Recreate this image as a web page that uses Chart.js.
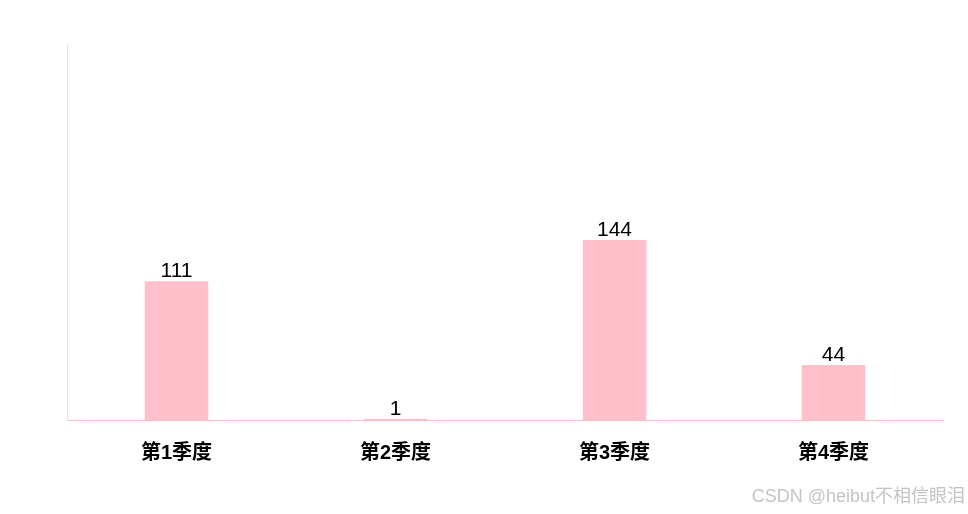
<!DOCTYPE html>
<html>
<head>
<meta charset="utf-8">
<script src="https://cdn.jsdelivr.net/npm/chart.js@4/dist/chart.umd.min.js"></script>
<style>
  html, body { margin: 0; padding: 0; background: #fff; }
  #wrap { position: relative; width: 968px; height: 514px; }
  #mark {
    position: absolute; right: 3px; bottom: 7px;
    font: 18px "Liberation Sans", "Noto Sans CJK SC", sans-serif;
    color: #c4c4c4;
  }
</style>
</head>
<body>
<div id="wrap">
  <canvas id="chart" width="968" height="514"></canvas>
  <div id="mark">CSDN @heibut不相信眼泪</div>
</div>
<script>
const categories = ['第1季度', '第2季度', '第3季度', '第4季度'];
const sales = [111, 1, 144, 44];
const yMax = 300;

const PINK = '#ffc0cb';
const FONT = '"Liberation Sans", "Noto Sans CJK SC", sans-serif';

// draws the value above each bar
const valueLabels = {
  id: 'valueLabels',
  afterDatasetsDraw(c){
    const g = c.ctx;
    const meta = c.getDatasetMeta(0);
    g.save();
    g.font = '21px ' + FONT;
    g.fillStyle = '#000';
    g.textAlign = 'center';
    g.textBaseline = 'alphabetic';
    meta.data.forEach((bar, i) => {
      g.fillText(String(sales[i]), bar.x, bar.y - 4);
    });
    g.restore();
  }
};

new Chart(document.getElementById('chart'), {
  type: 'bar',
  data: {
    labels: categories,
    datasets: [{ data: sales, backgroundColor: PINK, barPercentage: 0.29, categoryPercentage: 1 }]
  },
  options: {
    responsive: false,
    animation: false,
    layout: { padding: { top: 45, right: 25, left: 0, bottom: 0 } },
    plugins: { legend: { display: false }, tooltip: { enabled: false } },
    scales: {
      x: {
        grid: { display: false },
        border: { color: PINK, width: 1 },
        ticks: { color: '#000', font: { family: FONT, size: 20, weight: 'bold' }, padding: 13 },
        afterFit(s){ s.height = 94; }
      },
      y: {
        min: 0, max: yMax,
        grid: { display: false },
        border: { color: '#ffd6de', width: 1 },
        ticks: { display: false },
        afterFit(s){ s.width = 67; }
      }
    }
  },
  plugins: [valueLabels]
});
</script>
</body>
</html>
